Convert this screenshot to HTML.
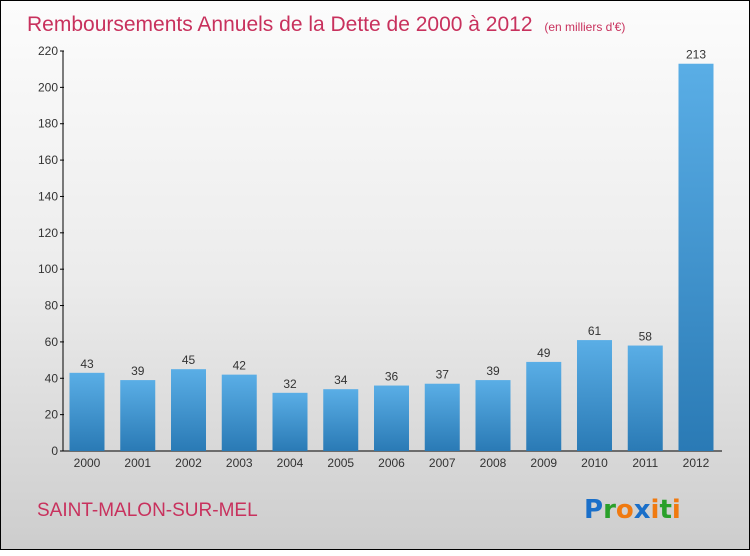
<!DOCTYPE html>
<html><head><meta charset="utf-8"><style>
body{margin:0;width:750px;height:550px;overflow:hidden;font-family:"Liberation Sans",sans-serif}
#frame{position:absolute;left:0;top:0;width:748px;height:548px;border:1px solid #000;background:linear-gradient(#fcfcfc 0%,#ececec 50%,#cdcdcd 100%)}
</style></head><body>
<div id="frame">
<svg width="750" height="550">
<defs><linearGradient id="bg" x1="0" y1="0" x2="0" y2="1"><stop offset="0" stop-color="#5aaee6"/><stop offset="1" stop-color="#2a7ab5"/></linearGradient></defs>
<text x="26" y="30" font-size="21" fill="#c8315d">Remboursements Annuels de la Dette de 2000 à 2012 <tspan font-size="12" dx="6">(en milliers d'€)</tspan></text>
<g id="axes"></g><g id="bars"></g>
<text x="36" y="515" font-size="19" fill="#c8315d">SAINT-MALON-SUR-MEL</text>
<text x="583" y="517" font-size="26" font-family="DejaVu Sans" font-weight="bold"><tspan fill="#1a6fc9">P</tspan><tspan fill="#2aa02a">r</tspan><tspan fill="#f07a10">o</tspan><tspan fill="#1a6fc9">x</tspan><tspan fill="#f07a10">i</tspan><tspan fill="#2aa02a">t</tspan><tspan fill="#f07a10">i</tspan></text>
</svg></div>
<script>
const years=["2000","2001","2002","2003","2004","2005","2006","2007","2008","2009","2010","2011","2012"];
const values=[43,39,45,42,32,34,36,37,39,49,61,58,213];
const ticks=[0,20,40,60,80,100,120,140,160,180,200,220];
const NS="http://www.w3.org/2000/svg";
const y0=450,yTop=50,vMax=220,x0=62,x1=721,step=50.75,firstC=86,bw=35;
const Y=v=>y0-(v/vMax)*(y0-yTop);
const X=i=>firstC+i*step;
function mk(t,a,p){const e=document.createElementNS(NS,t);for(const k in a)e.setAttribute(k,a[k]);p.appendChild(e);return e;}
const ax=document.getElementById('axes'),bg=document.getElementById('bars');
let l=mk('line',{x1:x0,y1:yTop,x2:x0,y2:y0,stroke:'#000'},ax);


l=mk('line',{x1:x0,y1:y0,x2:x1,y2:y0,stroke:'#000'},ax);


ticks.forEach(t=>{
 mk('line',{x1:x0-3,y1:Y(t),x2:x0+1,y2:Y(t),stroke:'#000'},ax);
 const tx=mk('text',{x:x0-5,y:Y(t)+4,'text-anchor':'end','font-size':12,fill:'#333'},ax);
 tx.textContent=t;
 
 
});
values.forEach((v,i)=>{
 const r=mk('rect',{x:X(i)-bw/2,y:Y(v),width:bw,height:y0-Y(v),fill:'url(#bg)'},bg);
 
 
 const vt=mk('text',{x:X(i),y:Y(v)-5,'text-anchor':'middle','font-size':12,fill:'#333'},bg);
 vt.textContent=v;
 
 
 const xt=mk('text',{x:X(i),y:y0+16,'text-anchor':'middle','font-size':12,fill:'#333'},bg);
 xt.textContent=years[i];
 
 
});
</script>
</body></html>
